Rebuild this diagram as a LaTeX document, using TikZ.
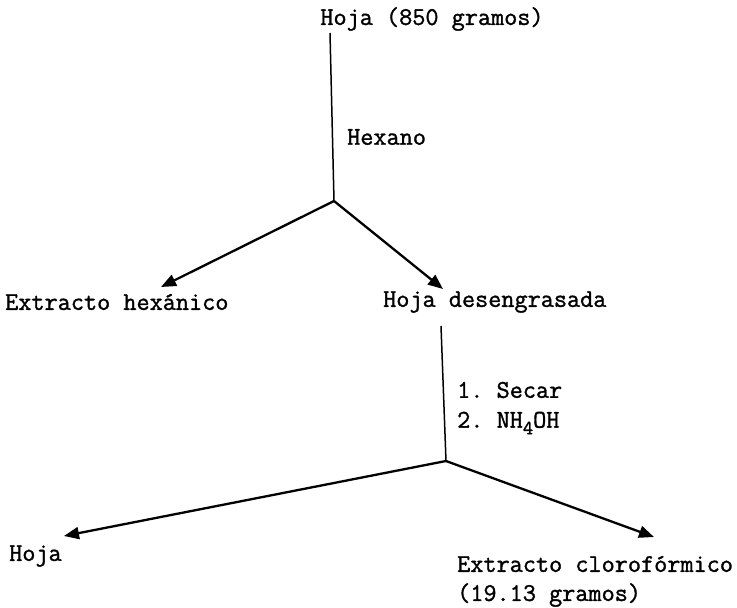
\documentclass[tikz,border=0pt]{standalone}
\usepackage{fontspec}
\newfontfamily\tw[FakeBold=1.3]{Latin Modern Mono}
\usetikzlibrary{arrows.meta}
\frenchspacing
\begin{document}
\begin{tikzpicture}[x=1pt,y=-1pt,
  lbl/.style={inner sep=0pt,anchor=west,font=\tw\fontsize{25.5}{30}\selectfont},
  thinline/.style={line width=1.5pt},
  arr/.style={line width=2.3pt,-{Triangle[length=15pt,width=12pt]}}]
\useasboundingbox (0,0) rectangle (737,608);
\node[lbl,anchor=center] (top) at (432,19) {Hoja (850 gramos)};
\coordinate (j1top) at (330,33);
\coordinate (j1) at (334,201);
\draw[thinline] (j1top) -- (j1);
\node[lbl] (hex) at (347,137) {Hexano};
\node[lbl] (eh) at (5,302) {Extracto hexánico};
\node[lbl] (hd) at (383,302) {Hoja desengrasada};
\coordinate (t1) at (161,287);
\coordinate (t2) at (443,289);
\draw[arr] (j1) -- (t1);
\draw[arr] (j1) -- (t2);
\coordinate (j2top) at (441,326);
\coordinate (j2) at (446,461);
\draw[thinline] (j2top) -- (j2);
\node[lbl] (s1) at (457,390) {1. Secar};
\node[lbl] (s2) at (457,423) {2. NH\raisebox{-0.6ex}{\fontsize{20}{22}\selectfont 4}OH};
\coordinate (t3) at (64,536);
\coordinate (t4) at (654,537);
\draw[arr] (j2) -- (t3);
\draw[arr] (j2) -- (t4);
\node[lbl] (hoja) at (9,556) {Hoja};
\node[lbl] (ec) at (457,564) {Extracto clorofórmico};
\node[lbl] (g) at (457,595) {(19.13 gramos)};
\end{tikzpicture}
\end{document}
